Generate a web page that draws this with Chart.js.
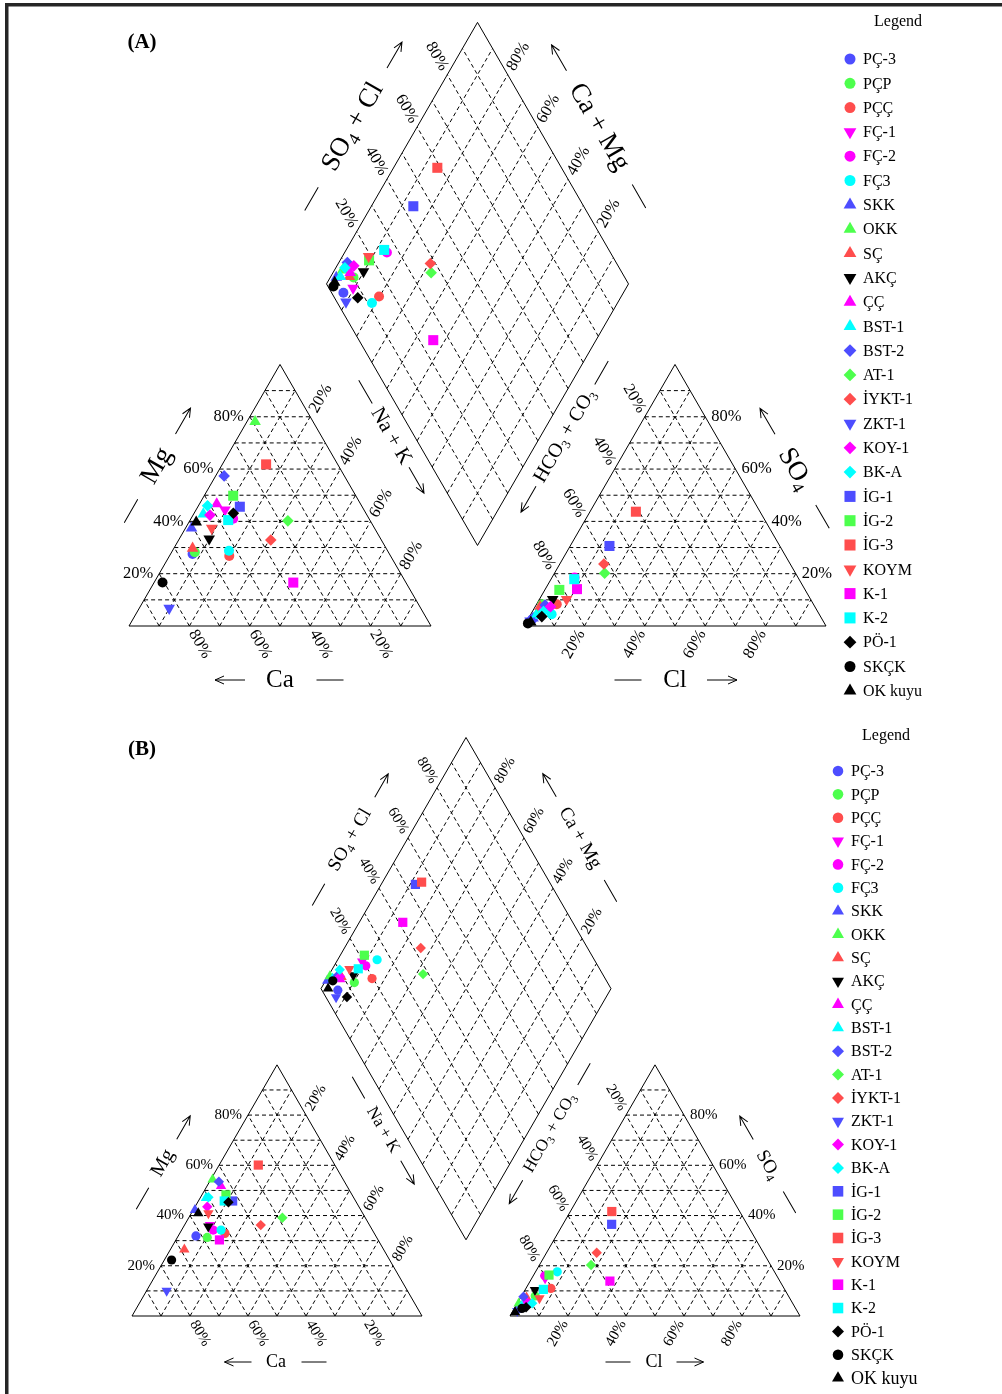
<!DOCTYPE html>
<html>
<head>
<meta charset="utf-8">
<title>Piper diagrams</title>
<script src="https://cdn.jsdelivr.net/npm/chart.js@4.4.1/dist/chart.umd.min.js"></script>
<style>
  html, body { margin: 0; padding: 0; background: #fff; }
  #wrap { width: 1002px; height: 1394px; }
</style>
</head>
<body>
<div id="wrap"><canvas id="piper"></canvas></div>
<script>
// Sample names (legend order)
const sampleNames = ['PÇ-3', 'PÇP', 'PÇÇ', 'FÇ-1', 'FÇ-2', 'FÇ3', 'SKK', 'OKK', 'SÇ', 'AKÇ', 'ÇÇ', 'BST-1', 'BST-2',
    'AT-1', 'İYKT-1', 'ZKT-1', 'KOY-1', 'BK-A', 'İG-1', 'İG-2', 'İG-3', 'KOYM', 'K-1', 'K-2', 'PÖ-1', 'SKÇK', 'OK kuyu'];

// (A) cations, % of meq/L (Ca = 100 - Mg - Na+K)
const mgA  = [27.5, 28.2, 26.8, 44.4, 41.0, 28.8, 37.4, 78.1, 29.7, 33.3, 46.7, 42.8, 57.4,
    40.2, 32.9, 6.8, 42.4, 46.0, 45.6, 49.8, 61.8, 37.4, 16.6, 40.5, 43.1, 16.6, 39.7];
const naKA = [7.3, 7.7, 19.8, 9.6, 14.0, 18.7, 2.0, 2.7, 6.2, 9.9, 5.7, 3.2, 2.8,
    32.5, 30.5, 9.9, 5.6, 3.0, 13.9, 9.6, 14.5, 8.7, 46.1, 12.6, 13.0, 2.8, 2.4];
// (A) anions, % (HCO3 + CO3 = 100 - SO4 - Cl)
const so4A = [2.5, 8.3, 8.3, 5.0, 18.5, 4.5, 3.0, 6.0, 7.4, 10.2, 7.0, 4.0, 8.0,
    20.2, 23.7, 2.0, 7.4, 5.5, 30.6, 13.8, 43.7, 10.2, 14.1, 17.9, 3.6, 1.0, 1.5];
const clA  = [1.4, 1.9, 6.7, 3.0, 7.5, 6.9, 1.5, 2.0, 1.6, 4.4, 3.0, 2.0, 3.0,
    16.6, 14.6, 1.0, 5.1, 3.7, 13.0, 4.8, 15.2, 9.0, 10.5, 7.7, 4.1, 0.8, 1.5];

// (B) cations
const mgB  = [31.9, 31.3, 32.9, 36.2, 34.2, 34.2, 42.2, 54.4, 26.5, 35.6, 51.8, 47.0, 53.5,
    39.1, 36.2, 10.1, 43.5, 47.3, 45.8, 48.2, 60.1, 40.9, 30.3, 45.8, 45.3, 22.3, 40.9];
const naKB = [6.1, 10.3, 15.6, 8.8, 10.9, 13.6, 0.6, 0.6, 4.8, 8.5, 4.8, 2.0, 3.2,
    32.3, 26.3, 6.9, 4.2, 2.7, 11.8, 8.3, 13.5, 5.9, 15.0, 8.9, 10.6, 2.5, 2.4];
// (B) anions
const so4B = [4.0, 8.0, 11.0, 15.0, 16.0, 17.6, 2.5, 5.0, 7.4, 10.4, 6.0, 4.0, 7.7,
    20.3, 25.2, 2.0, 5.0, 5.1, 36.5, 16.3, 41.6, 7.1, 13.9, 10.6, 3.5, 3.0, 1.5];
const clB  = [1.5, 4.7, 8.6, 4.6, 4.0, 7.5, 1.2, 0.5, 2.0, 3.4, 2.5, 2.0, 0.8,
    17.8, 17.3, 1.5, 4.0, 5.1, 16.8, 5.3, 14.3, 6.6, 27.5, 6.2, 3.8, 2.6, 1.0];

const gridSteps = [10, 20, 30, 40, 50, 60, 70, 80, 90];
const tickLabels = [20, 40, 60, 80];

// Marker styles
const BLUE = '#4d4dff', GREEN = '#4dff4d', RED = '#ff4d4d', MAG = '#ff00ff', CYAN = '#00ffff', BLACK = '#000000';
const sampleColors = [BLUE, GREEN, RED, MAG, MAG, CYAN, BLUE, GREEN, RED, BLACK, MAG, CYAN, BLUE,
    GREEN, RED, BLUE, MAG, CYAN, BLUE, GREEN, RED, RED, MAG, CYAN, BLACK, BLACK, BLACK];
const sampleShapes = ['circle', 'circle', 'circle', 'down', 'circle', 'circle', 'triangle', 'triangle', 'triangle', 'down',
    'triangle', 'triangle', 'rectRot', 'rectRot', 'rectRot', 'down', 'rectRot', 'rectRot', 'rect', 'rect', 'rect', 'down',
    'rect', 'rect', 'rectRot', 'circle', 'triangle'];

const fontFamily = '"Liberation Serif", "DejaVu Serif", serif';
const H = Math.sqrt(3) / 2;

// Panel geometry
function makePanel(cx, ax, yb, side) {
    const bx = (cx + side + ax) / 2;
    const by = yb - (ax - cx - side) * H;
    return { cx, ax, yb, side, bx, by };
}
const panelA = makePanel(129, 524, 626, 302);
const panelB = makePanel(132, 510, 1316, 290);

function cationXY(p, mg, nak) {
    return { x: p.cx + p.side * (nak + mg / 2) / 100, y: p.yb - p.side * H * mg / 100 };
}
function anionXY(p, so4, cl) {
    return { x: p.ax + p.side * (cl + so4 / 2) / 100, y: p.yb - p.side * H * so4 / 100 };
}
function diamondXY(p, camg, so4cl) {
    return { x: p.bx + p.side * 0.5 * (so4cl - camg) / 100, y: p.by - p.side * H * (so4cl + camg) / 100 };
}

// Outline and grid segments
const outline = [];
const grid = [];
function addPoly(p) {
    const tri1 = [cationXY(p, 0, 0), cationXY(p, 0, 100), cationXY(p, 100, 0), cationXY(p, 0, 0)];
    const tri2 = [anionXY(p, 0, 0), anionXY(p, 0, 100), anionXY(p, 100, 0), anionXY(p, 0, 0)];
    const dia = [diamondXY(p, 0, 0), diamondXY(p, 0, 100), diamondXY(p, 100, 100), diamondXY(p, 100, 0), diamondXY(p, 0, 0)];
    [tri1, tri2, dia].forEach(poly => {
        poly.forEach(pt => outline.push(pt));
        outline.push({ x: null, y: null });
    });
    gridSteps.forEach(f => {
        const segs = [
            [cationXY(p, f, 0), cationXY(p, f, 100 - f)],
            [cationXY(p, 0, f), cationXY(p, 100 - f, f)],
            [cationXY(p, 0, 100 - f), cationXY(p, 100 - f, 0)],
            [anionXY(p, f, 0), anionXY(p, f, 100 - f)],
            [anionXY(p, 0, f), anionXY(p, 100 - f, f)],
            [anionXY(p, 0, 100 - f), anionXY(p, 100 - f, 0)],
            [diamondXY(p, 0, f), diamondXY(p, 100, f)],
            [diamondXY(p, f, 0), diamondXY(p, f, 100)]
        ];
        segs.forEach(s => { grid.push(s[0], s[1], { x: null, y: null }); });
    });
}
addPoly(panelA);
addPoly(panelB);

const sizes = {
    A: { circle: 5, triangle: 6.7, down: 6.7, rect: 7.1, rectRot: 5.8 },
    B: { circle: 4.6, triangle: 6, down: 6, rect: 6.5, rectRot: 5.2 }
};

function pointDataset(data, key) {
    return {
        type: 'scatter',
        data: data,
        order: 0,
        showLine: false,
        pointStyle: sampleShapes.map(s => s === 'down' ? 'triangle' : s),
        rotation: sampleShapes.map(s => s === 'down' ? 180 : 0),
        pointRadius: sampleShapes.map(s => sizes[key][s]),
        pointBackgroundColor: sampleColors,
        pointBorderWidth: 0,
        pointBorderColor: sampleColors
    };
}

const datasets = [];
[[panelA, mgA, naKA, so4A, clA, 'A'], [panelB, mgB, naKB, so4B, clB, 'B']].forEach(([p, mg, nak, so4, cl, key]) => {
    datasets.push(pointDataset(sampleNames.map((n, i) => cationXY(p, mg[i], nak[i])), key));
    datasets.push(pointDataset(sampleNames.map((n, i) => anionXY(p, so4[i], cl[i])), key));
    datasets.push(pointDataset(sampleNames.map((n, i) => diamondXY(p, 100 - nak[i], so4[i] + cl[i])), key));
});
datasets.push({
    type: 'scatter', data: outline, order: 5, showLine: true, spanGaps: false,
    borderColor: '#000', borderWidth: 1, pointRadius: 0, fill: false
});
datasets.push({
    type: 'scatter', data: grid, order: 6, showLine: true, spanGaps: false,
    borderColor: '#000', borderWidth: 1, borderDash: [4, 3], pointRadius: 0, fill: false
});

// Axis titles (positions are layout)
const titlesA = [
    { parts: [['SO', 0], ['4', 1], [' + Cl', 0]], x: 353, y: 127, rot: -60, size: 27, side: 1, gap: 83 },
    { parts: [['Ca + Mg', 0]], x: 599, y: 127, rot: 60, size: 27, side: -1, gap: 80 },
    { parts: [['Mg', 0]], x: 157, y: 466, rot: -60, size: 27, side: 1, gap: 52 },
    { parts: [['Na + K', 0]], x: 391, y: 436, rot: 60, size: 21, side: 1, gap: 51 },
    { parts: [['Ca', 0]], x: 280, y: 680, rot: 0, size: 25, side: -1, gap: 50 },
    { parts: [['HCO', 0], ['3', 1], [' + CO', 0], ['3', 1]], x: 565, y: 436, rot: -60, size: 20, side: -1, gap: 73 },
    { parts: [['SO', 0], ['4', 1]], x: 795, y: 469, rot: 60, size: 27, side: -1, gap: 55 },
    { parts: [['Cl', 0]], x: 675, y: 680, rot: 0, size: 25, side: 1, gap: 47 }
];
const titlesB = [
    { parts: [['SO', 0], ['4', 1], [' + Cl', 0]], x: 350, y: 840, rot: -60, size: 19, side: 1, gap: 63 },
    { parts: [['Ca + Mg', 0]], x: 580, y: 838, rot: 60, size: 19, side: -1, gap: 61 },
    { parts: [['Mg', 0]], x: 163, y: 1163, rot: -60, size: 20, side: 1, gap: 41 },
    { parts: [['Na + K', 0]], x: 383, y: 1130, rot: 60, size: 17, side: 1, gap: 49 },
    { parts: [['Ca', 0]], x: 276, y: 1362, rot: 0, size: 18, side: -1, gap: 38 },
    { parts: [['HCO', 0], ['3', 1], [' + CO', 0], ['3', 1]], x: 550, y: 1133, rot: -60, size: 17, side: -1, gap: 68 },
    { parts: [['SO', 0], ['4', 1]], x: 768, y: 1165, rot: 60, size: 19, side: -1, gap: 43 },
    { parts: [['Cl', 0]], x: 654, y: 1362, rot: 0, size: 18, side: 1, gap: 36 }
];

function drawParts(ctx, parts, size) {
    const subSize = size * 0.65;
    let w = 0;
    const widths = parts.map(([t, sub]) => {
        ctx.font = `${sub ? subSize : size}px ${fontFamily}`;
        const m = ctx.measureText(t).width;
        w += m;
        return m;
    });
    let x = -w / 2;
    ctx.textAlign = 'left';
    ctx.textBaseline = 'middle';
    parts.forEach(([t, sub], i) => {
        ctx.font = `${sub ? subSize : size}px ${fontFamily}`;
        ctx.fillText(t, x, sub ? size * 0.3 : 0);
        x += widths[i];
    });
}

function toPx(chart, pt) {
    return { x: chart.scales.x.getPixelForValue(pt.x), y: chart.scales.y.getPixelForValue(pt.y) };
}

function drawTitle(ctx, chart, t, arrowLen, dashLen) {
    const c = toPx(chart, t);
    const s = t.side;
    ctx.save();
    ctx.translate(c.x, c.y);
    ctx.rotate(t.rot * Math.PI / 180);
    ctx.fillStyle = '#000';
    drawParts(ctx, t.parts, t.size);
    ctx.strokeStyle = '#000';
    ctx.lineWidth = 1;
    const a0 = s * (t.gap - arrowLen / 2), a1 = s * (t.gap + arrowLen / 2);
    ctx.beginPath();
    ctx.moveTo(a0, 0);
    ctx.lineTo(a1, 0);
    ctx.moveTo(a1 - s * 9, -4);
    ctx.lineTo(a1, 0);
    ctx.lineTo(a1 - s * 9, 4);
    ctx.moveTo(-s * (t.gap - dashLen / 2), 0);
    ctx.lineTo(-s * (t.gap + dashLen / 2), 0);
    ctx.stroke();
    ctx.restore();
}

function drawRotLabel(ctx, chart, pt, dir, d, rot, text, size) {
    const c = toPx(chart, { x: pt.x + d * dir[0], y: pt.y + d * dir[1] });
    ctx.save();
    ctx.translate(c.x, c.y);
    ctx.rotate(rot * Math.PI / 180);
    ctx.font = `${size}px ${fontFamily}`;
    ctx.textAlign = 'center';
    ctx.textBaseline = 'middle';
    ctx.fillText(text, 0, 0);
    ctx.restore();
}

function drawFlatLabel(ctx, chart, pt, dx, align, text, size) {
    const c = toPx(chart, { x: pt.x + dx, y: pt.y });
    ctx.font = `${size}px ${fontFamily}`;
    ctx.textAlign = align;
    ctx.textBaseline = 'middle';
    ctx.fillText(text, c.x, c.y);
}

function drawPercentLabels(ctx, chart, p, size, d) {
    ctx.fillStyle = '#000';
    tickLabels.forEach(v => {
        const txt = v + '%';
        drawFlatLabel(ctx, chart, cationXY(p, v, 0), -6, 'right', txt, size);
        drawRotLabel(ctx, chart, cationXY(p, 100 - v, v), [0.5, -H], d, -60, txt, size);
        drawRotLabel(ctx, chart, cationXY(p, 0, 100 - v), [0.5, H], d, 60, txt, size);
        drawRotLabel(ctx, chart, anionXY(p, 0, v), [-0.5, H], d, -60, txt, size);
        drawRotLabel(ctx, chart, anionXY(p, 100 - v, 0), [-0.5, -H], d, 60, txt, size);
        drawFlatLabel(ctx, chart, anionXY(p, v, 100 - v), 6, 'left', txt, size);
        drawRotLabel(ctx, chart, diamondXY(p, 100, v), [-0.5, -H], d, 60, txt, size);
        drawRotLabel(ctx, chart, diamondXY(p, v, 100), [0.5, -H], d, -60, txt, size);
    });
}

function drawMarker(ctx, shape, color, r, x, y) {
    ctx.fillStyle = color;
    const opts = { pointStyle: shape === 'down' ? 'triangle' : shape, radius: r, rotation: shape === 'down' ? 180 : 0, borderWidth: 0 };
    Chart.helpers.drawPoint(ctx, opts, x, y);
}

function drawLegend(ctx, chart, lg, key) {
    ctx.fillStyle = '#000';
    ctx.font = `16px ${fontFamily}`;
    ctx.textAlign = 'center';
    ctx.textBaseline = 'middle';
    const t = toPx(chart, { x: lg.titleX, y: lg.titleY });
    ctx.fillText('Legend', t.x, t.y);
    sampleNames.forEach((name, i) => {
        const m = toPx(chart, { x: lg.markerX, y: lg.y0 + i * lg.step });
        const r = sizes[key][sampleShapes[i]] * lg.scale;
        ctx.save();
        drawMarker(ctx, sampleShapes[i], sampleColors[i], r, m.x, m.y);
        ctx.restore();
        ctx.fillStyle = '#000';
        ctx.font = `${i === sampleNames.length - 1 ? lg.lastSize : 16}px ${fontFamily}`;
        ctx.textAlign = 'left';
        ctx.textBaseline = 'middle';
        const tx = toPx(chart, { x: lg.textX, y: lg.y0 + i * lg.step });
        ctx.fillText(name, tx.x, tx.y + 1);
    });
}

const legendA = { titleX: 898, titleY: 22, markerX: 850, textX: 863, y0: 59, step: 24.3, scale: 1.1, lastSize: 16 };
const legendB = { titleX: 886, titleY: 736, markerX: 838, textX: 851, y0: 771, step: 23.35, scale: 1.15, lastSize: 18 };

const piperText = {
    id: 'piperText',
    beforeDatasetsDraw(chart) {
        const ctx = chart.ctx;
        ctx.save();
        ctx.fillStyle = '#262626';
        ctx.fillRect(5, 3, 3.5, chart.height);
        ctx.fillRect(5, 3, chart.width, 3.5);
        ctx.restore();
    },
    afterDatasetsDraw(chart) {
        const ctx = chart.ctx;
        ctx.save();
        drawPercentLabels(ctx, chart, panelA, 16.5, 21);
        drawPercentLabels(ctx, chart, panelB, 15, 20);
        titlesA.forEach(t => drawTitle(ctx, chart, t, 30, 27));
        titlesB.forEach(t => drawTitle(ctx, chart, t, 27, 25));
        ctx.fillStyle = '#000';
        ctx.font = `bold 21px ${fontFamily}`;
        ctx.textAlign = 'center';
        ctx.textBaseline = 'middle';
        const la = toPx(chart, { x: 142, y: 43 });
        ctx.fillText('(A)', la.x, la.y);
        const lb = toPx(chart, { x: 142, y: 750 });
        ctx.fillText('(B)', lb.x, lb.y);
        drawLegend(ctx, chart, legendA, 'A');
        drawLegend(ctx, chart, legendB, 'B');
        ctx.restore();
    }
};

const piperChart = new Chart(document.getElementById('piper'), {
    type: 'scatter',
    data: { datasets: datasets },
    options: {
        responsive: true,
        maintainAspectRatio: false,
        animation: false,
        events: [],
        layout: { padding: 0 },
        plugins: { legend: { display: false }, tooltip: { enabled: false } },
        scales: {
            x: { type: 'linear', min: 0, max: 1002, display: false },
            y: { type: 'linear', min: 0, max: 1394, reverse: true, display: false }
        }
    },
    plugins: [piperText]
});

// Chart.js keeps a small margin for marker overflow; match the scale ranges to the
// resulting chart area so one value unit is one pixel of the page.
const area = piperChart.chartArea;
piperChart.options.scales.x.min = area.left;
piperChart.options.scales.x.max = area.right;
piperChart.options.scales.y.min = area.top;
piperChart.options.scales.y.max = area.bottom;
piperChart.update();
</script>
</body>
</html>
